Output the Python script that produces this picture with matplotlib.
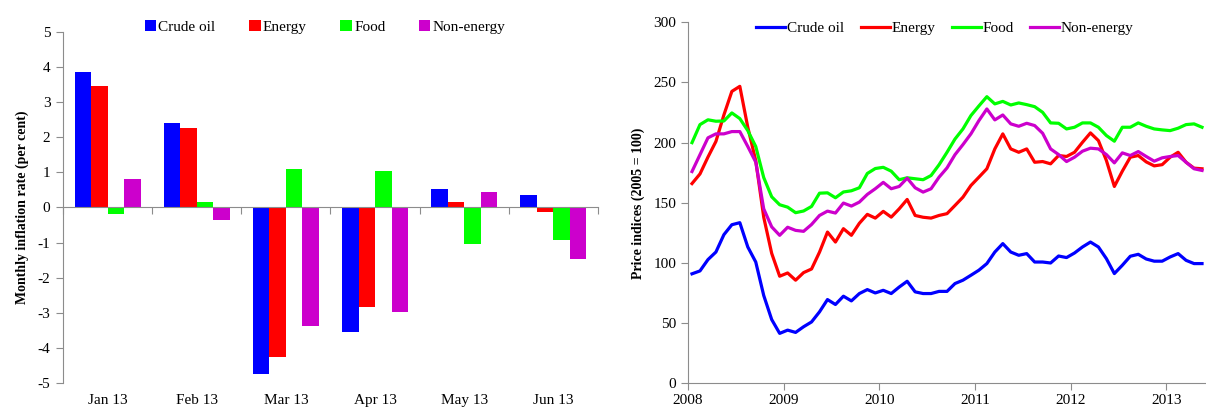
"""
Two panels: monthly commodity inflation in early 2013 (bars) and
monthly commodity price indices 2008-2013 (lines).
"""

import numpy as np
import matplotlib
matplotlib.use("Agg")
import matplotlib.pyplot as plt
from matplotlib import transforms

# ---------- Data ---------- #
series = ["Crude oil", "Energy", "Food", "Non-energy"]
colours = ["#0000FF", "#FF0000", "#00FF00", "#CC00CC"]

months = ["Jan 13", "Feb 13", "Mar 13", "Apr 13", "May 13", "Jun 13"]
infl_crude = [3.85, 2.40, -4.75, -3.55, 0.52, 0.37]
infl_energy = [3.45, 2.26, -4.25, -2.83, 0.17, -0.13]
infl_food = [-0.19, 0.15, 1.10, 1.05, -1.04, -0.92]
infl_nonenergy = [0.81, -0.37, -3.39, -2.98, 0.44, -1.47]

# monthly indices, Jan 2008 .. May 2013 (2005 = 100)
idx_crude = [91, 93.4, 102.8, 109.1, 123.5, 131.8, 133.5, 113.3, 100.8, 73, 53, 41.5,
             44.2, 42.3, 47, 51, 59.4, 69.6, 65.5, 72.4, 68.5, 74.6, 77.9, 75.1,
             77.3, 74.6, 80, 84.8, 76, 74.6, 74.6, 76.4, 76.4, 82.9, 85.7, 89.8,
             94, 99.5, 109.1, 116.1, 109.1, 106.4, 107.8, 100.8, 100.8, 100, 105.8, 104.5,
             108.3, 113.3, 117.4, 113.3, 103.6, 91.2, 98.1, 105.6, 107.2, 103.3, 101.5, 101.5,
             105, 107.8, 102.2, 99.5, 99.5]
idx_energy = [166, 174, 188, 201, 223, 242.6, 246.8, 212.8, 185, 138, 108, 89,
              91.7, 85.7, 92, 95, 109, 125.7, 117.4, 128.5, 123, 133, 140.4, 137.3,
              142.9, 138.1, 145, 152.8, 139.5, 138, 137.3, 139.5, 141, 147.8, 154.7, 164.4,
              171.3, 178.3, 194.8, 207.3, 194.8, 192, 194.8, 183.7, 184.3, 182.4, 189.3, 188.5,
              192, 200.3, 208.1, 201.7, 185.2, 163.6, 176.3, 187.9, 189.3, 184, 180.7, 181.7,
              187.9, 192, 183.7, 178.8, 178.3]
idx_food = [200, 215, 219, 217.8, 218, 224.7, 220, 210, 196.8, 171, 155, 148.4,
            146.4, 141.8, 143.2, 147, 158, 158.3, 154.2, 159, 160, 162.5, 174.4, 178.5,
            179.5, 176.3, 169.2, 170.8, 170, 169.2, 172.7, 181.6, 192, 203, 211.4, 222.5,
            230.5, 238.2, 232.2, 234.3, 231.3, 233, 231.6, 229.9, 225.2, 216.4, 216.1, 211.4,
            212.8, 216.4, 216.4, 212.8, 205.9, 201.2, 212.8, 212.8, 216.4, 213.6, 211.4, 210.6,
            210, 212, 215, 215.6, 212.8]
idx_nonenergy = [176, 190, 204, 207.3, 207.3, 209.2, 209.2, 196.8, 183.8, 145, 130, 123,
                 129.7, 127.1, 126.3, 132, 139.5, 143.1, 141.5, 149.8, 147.3, 150.6, 157, 161.7,
                 167, 161.7, 163.6, 170.5, 162.5, 158.9, 161.7, 171.3, 179, 190, 198.4, 207.3,
                 218.3, 228, 218.9, 223, 215.6, 213.6, 216.1, 214.2, 207.8, 194.8, 190.1, 184.3,
                 187.9, 192.9, 195.4, 194.8, 190.1, 183.2, 191.5, 189.3, 192.6, 188.5, 184.6, 187.4,
                 188.5, 189.3, 183.7, 178.3, 176.9]
years = ["2008", "2009", "2010", "2011", "2012", "2013"]

# ---------- Style ---------- #
plt.rcParams['font.family'] = ['Liberation Serif', 'DejaVu Serif']
plt.rcParams['font.size'] = 11
plt.rcParams['axes.unicode_minus'] = False
GREY = "#8c8c8c"

fig = plt.figure(figsize=(12.06, 4.08), dpi=100)
ax1 = fig.add_axes([0.0522, 0.0613, 0.4436, 0.8603])
ax2 = fig.add_axes([0.5705, 0.0605, 0.4295, 0.8848])

# ---------- Left panel: bars ---------- #
infl = [infl_crude, infl_energy, infl_food, infl_nonenergy]
x = np.arange(len(months))
w = 0.185
for k in range(4):
    ax1.bar(x + (k - 1.5) * w, infl[k], width=w, color=colours[k], label=series[k])

ax1.set_xlim(-0.5, len(months) - 0.5)
ax1.set_ylim(-5, 5)
ax1.set_yticks(np.arange(-5, 6, 1))
for s in ["top", "right"]:
    ax1.spines[s].set_visible(False)
ax1.spines["left"].set_color(GREY)
ax1.spines["bottom"].set_position(("data", 0))
ax1.spines["bottom"].set_color(GREY)
ax1.set_xticks(np.arange(len(months) + 1) - 0.5)
ax1.set_xticklabels([])
ax1.tick_params(axis="x", direction="out", length=5, color=GREY)
ax1.tick_params(axis="y", direction="out", length=5, color=GREY, pad=4)
trans = transforms.blended_transform_factory(ax1.transData, ax1.transAxes)
for i, m in enumerate(months):
    ax1.text(x[i], -0.03, m, transform=trans, ha="center", va="top", fontsize=11)
ax1.set_ylabel("Monthly inflation rate (per cent)", fontweight="bold", fontsize=10, labelpad=6)
ax1.legend(loc="center", bbox_to_anchor=(0.49, 1.014), ncol=4, frameon=False,
           handlelength=0.75, handleheight=0.75, handletextpad=0.15, columnspacing=2.2,
           fontsize=11, borderaxespad=0)

# ---------- Right panel: lines ---------- #
idx = [idx_crude, idx_energy, idx_food, idx_nonenergy]
t = np.arange(len(idx_crude)) + 0.5
for k in range(4):
    ax2.plot(t, idx[k], color=colours[k], lw=2.3, label=series[k], solid_joinstyle="round")

ax2.set_xlim(0, len(idx_crude))
ax2.set_ylim(0, 300)
ax2.set_yticks(np.arange(0, 301, 50))
ax2.set_xticks(np.arange(0, len(idx_crude), 12))
ax2.set_xticklabels(years)
for s in ["top", "right"]:
    ax2.spines[s].set_visible(False)
ax2.spines["left"].set_color(GREY)
ax2.spines["bottom"].set_color(GREY)
ax2.tick_params(axis="both", direction="out", length=5, color=GREY)
ax2.tick_params(axis="x", pad=3)
ax2.set_ylabel("Price indices (2005 = 100)", fontweight="bold", fontsize=10, labelpad=6)
ax2.legend(loc="center", bbox_to_anchor=(0.496, 0.984), ncol=4, frameon=False,
           handlelength=1.9, handletextpad=0.1, columnspacing=1.1,
           fontsize=11, borderaxespad=0)

fig.savefig("out.png", dpi=100)
